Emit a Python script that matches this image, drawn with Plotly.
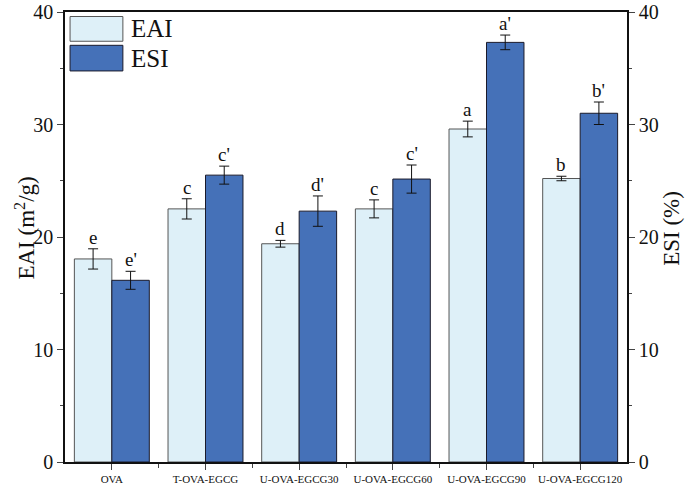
import plotly.graph_objects as go

categories = ["OVA", "T-OVA-EGCG", "U-OVA-EGCG30", "U-OVA-EGCG60", "U-OVA-EGCG90", "U-OVA-EGCG120"]
eai = [18.05, 22.5, 19.4, 22.5, 29.6, 25.2]
eai_err = [0.9, 0.9, 0.3, 0.8, 0.7, 0.2]
esi = [16.15, 25.5, 22.3, 25.15, 37.3, 31.0]
esi_err = [0.8, 0.8, 1.35, 1.25, 0.65, 1.0]
eai_letters = ["e", "c", "d", "c", "a", "b"]
esi_letters = ["e'", "c'", "d'", "c'", "a'", "b'"]
y_ticks = [0, 10, 20, 30, 40]

EAI_COLOR = "#DEF0F8"
ESI_COLOR = "#4571B8"
FONT = "Liberation Serif, Times New Roman, serif"

x = list(range(len(categories)))

fig = go.Figure()
fig.add_trace(go.Bar(
    x=x, y=eai, width=0.4, offset=-0.4, name="EAI",
    marker=dict(color=EAI_COLOR, line=dict(color="#555555", width=1)),
    error_y=dict(type="data", array=eai_err, color="#111111", thickness=1, width=5),
    yaxis="y", showlegend=False,
))
fig.add_trace(go.Bar(
    x=x, y=esi, width=0.4, offset=0.0, name="ESI",
    marker=dict(color=ESI_COLOR, line=dict(color="#1a1a2a", width=1)),
    error_y=dict(type="data", array=esi_err, color="#111111", thickness=1, width=5),
    yaxis="y2", showlegend=False,
))

annotations = []
for i in x:
    annotations.append(dict(x=i - 0.2, y=eai[i] + eai_err[i], xref="x", yref="y",
                            text=eai_letters[i], showarrow=False, yanchor="bottom",
                            yshift=-1, font=dict(family=FONT, size=19, color="#111")))
    annotations.append(dict(x=i + 0.2, y=esi[i] + esi_err[i], xref="x", yref="y2",
                            text=esi_letters[i], showarrow=False, yanchor="bottom",
                            yshift=-1, font=dict(family=FONT, size=19, color="#111")))

# custom legend
legend_items = [("EAI", EAI_COLOR, "#555555", 0.99, 0.935), ("ESI", ESI_COLOR, "#1a1a2a", 0.926, 0.869)]
shapes = []
for name, col, lc, y1, y0 in legend_items:
    shapes.append(dict(type="rect", xref="paper", yref="paper", x0=0.009, x1=0.103, y0=y0, y1=y1,
                       fillcolor=col, line=dict(color=lc, width=1)))
    annotations.append(dict(x=0.113, y=(y0 + y1) / 2, xref="paper", yref="paper", text=name,
                            showarrow=False, xanchor="left", yanchor="middle",
                            font=dict(family=FONT, size=25, color="#111")))

# axis titles
annotations.append(dict(x=-0.072, y=0.52, xref="paper", yref="paper", text="EAI (m<sup>2</sup>/g)",
                        textangle=-90, showarrow=False, xanchor="center", yanchor="middle",
                        font=dict(family=FONT, size=23, color="#111")))
annotations.append(dict(x=1.078, y=0.52, xref="paper", yref="paper", text="ESI (%)",
                        textangle=-90, showarrow=False, xanchor="center", yanchor="middle",
                        font=dict(family=FONT, size=23, color="#111")))

fig.update_layout(
    width=693, height=485,
    margin=dict(l=65, r=66, t=12, b=23, autoexpand=False),
    paper_bgcolor="white", plot_bgcolor="white",
    font=dict(family=FONT, color="#111"),
    shapes=shapes,
    annotations=annotations,
    xaxis=dict(
        range=[-0.5, 5.5], tickvals=x, ticktext=categories, automargin=False,
        tickfont=dict(size=11), ticks="outside", ticklen=6, tickwidth=1.2,
        showline=True, linecolor="#111", linewidth=1.5, mirror=True,
        showgrid=False, zeroline=False,
        minor=dict(tickvals=[0.5, 1.5, 2.5, 3.5, 4.5], ticks="outside", ticklen=4, tickwidth=1.2, showgrid=False),
    ),
    yaxis=dict(
        range=[0, 40.0001], tickvals=y_ticks, tickfont=dict(size=20), automargin=False,
        ticks="outside", ticklen=6, tickwidth=1.2, ticklabeloverflow="allow",
        showline=True, linecolor="#111", linewidth=1.5,
        showgrid=False, zeroline=False,
        minor=dict(tickvals=[5, 15, 25, 35], ticks="outside", ticklen=3, tickwidth=1.2, showgrid=False),
    ),
    yaxis2=dict(
        range=[0, 40.0001], tickvals=y_ticks, tickfont=dict(size=20), automargin=False,
        overlaying="y", side="right", ticklabeloverflow="allow",
        ticks="outside", ticklen=6, tickwidth=1.2,
        showline=True, linecolor="#111", linewidth=1.5,
        showgrid=False, zeroline=False,
        minor=dict(tickvals=[5, 15, 25, 35], ticks="outside", ticklen=3, tickwidth=1.2, showgrid=False),
    ),
)

fig.write_html(
    "out.html",
    config={"displayModeBar": False},
    post_script="document.body.style.margin='0';document.body.style.overflow='hidden';",
)
